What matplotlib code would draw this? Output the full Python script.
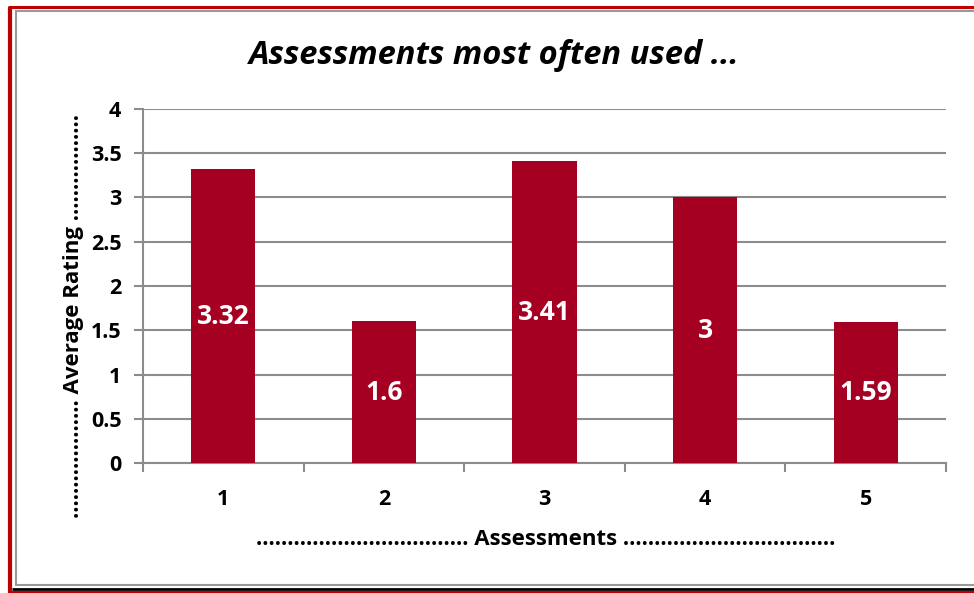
import matplotlib.pyplot as plt
from matplotlib.lines import Line2D

# data
assessments = [1, 2, 3, 4, 5]
ratings = [3.32, 1.6, 3.41, 3, 1.59]
rating_labels = ["3.32", "1.6", "3.41", "3", "1.59"]
yticks = [0, 0.5, 1, 1.5, 2, 2.5, 3, 3.5, 4]
ytick_labels = ["0", "0.5", "1", "1.5", "2", "2.5", "3", "3.5", "4"]

BAR_COLOR = "#A50021"
GRID_COLOR = "#8C8C8C"

plt.rcParams['font.family'] = ['Open Sans', 'DejaVu Sans']

fig = plt.figure(figsize=(9.74, 5.93), dpi=100)
ax = fig.add_axes([0.1468, 0.2192, 0.8245, 0.597])

bars = ax.bar(assessments, ratings, width=0.4, color=BAR_COLOR, zorder=3)
for b, lab in zip(bars, rating_labels):
    ax.text(b.get_x() + b.get_width() / 2, b.get_height() / 2, lab,
            ha='center', va='center', color='white', fontsize=19, fontweight='bold', zorder=4)

ax.set_xlim(0.5, 5.5)
ax.set_ylim(0, 4)
ax.set_yticks(yticks)
ax.set_yticklabels(ytick_labels, fontsize=15.5, fontweight='bold')
ax.set_xticks([0.5, 1.5, 2.5, 3.5, 4.5, 5.5])
ax.set_xticklabels([])
ax.set_xticks(assessments, minor=True)
ax.set_xticklabels([str(a) for a in assessments], minor=True, fontsize=15.5, fontweight='bold')
ax.tick_params(axis='x', which='minor', length=0, pad=19)
ax.tick_params(axis='both', which='major', length=6.5, color=GRID_COLOR, width=1.5, direction='out')
ax.tick_params(axis='y', pad=9)

ax.grid(axis='y', color=GRID_COLOR, linewidth=1.5, zorder=0)
ax.set_axisbelow(True)
for s in ['top', 'right']:
    ax.spines[s].set_visible(False)
for s in ['left', 'bottom']:
    ax.spines[s].set_color(GRID_COLOR)
    ax.spines[s].set_linewidth(1.5)

fig.text(0.507, 0.907, "Assessments most often used ...", ha='center', va='center',
         fontsize=23.5, fontweight='bold', fontstyle='italic')
fig.text(0.56, 0.09, "." * 34 + " Assessments " + "." * 34, ha='center', va='center',
         fontsize=16, fontweight='bold')
fig.text(0.075, 0.467, "." * 19 + " Average Rating " + "." * 17, ha='center', va='center',
         rotation=90, fontsize=16, fontweight='bold')

# chart frame: outer red border, black shadow at bottom, inner grey border
H = 593.0
W = 974.0
def fl(x0, y0, x1, y1, color, lw):
    fig.add_artist(Line2D([x0 / W, x1 / W], [1 - y0 / H, 1 - y1 / H], color=color, linewidth=lw,
                          transform=fig.transFigure, solid_capstyle='butt'))

fl(8, 7, 974, 7, "#C00000", 2.2)
fl(10, 7, 10, 593, "#C00000", 3.0)
fl(8, 591.5, 974, 591.5, "#C00000", 1.5)
fl(12, 588.5, 974, 588.5, "#000000", 2.0)
fl(15.5, 11, 15.5, 585, "#999999", 1.5)
fl(15, 11, 974, 11, "#999999", 1.5)
fl(15, 585, 974, 585, "#999999", 1.5)

fig.savefig("out.png", dpi=100)
